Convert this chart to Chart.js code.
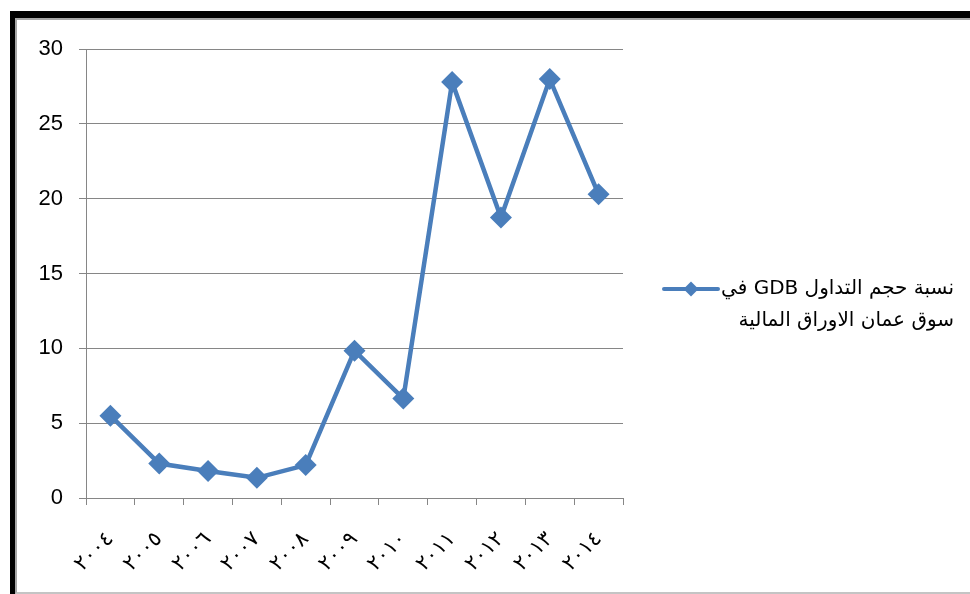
<!DOCTYPE html>
<html>
<head>
<meta charset="utf-8">
<script src="https://cdn.jsdelivr.net/npm/chart.js@4.4.1/dist/chart.umd.min.js"></script>
<style>
  html, body { margin: 0; padding: 0; background: #fff; width: 970px; height: 594px; overflow: hidden; }
  #outer { position: absolute; left: 10px; top: 11px; width: 960px; height: 583px; box-sizing: border-box;
           border-top: 7px solid #000; border-left: 5px solid #000; }
  #inner { position: absolute; left: 0; top: 0; right: 0; bottom: 0; box-sizing: border-box;
           border-top: 2px solid #a6a6a6; border-left: 2px solid #a6a6a6; border-bottom: 2px solid #c4c4c4; }
  #wrap { position: absolute; left: 0; top: 0; width: 953px; height: 572px; }
</style>
</head>
<body>
<div id="outer"><div id="inner"><div id="wrap"><canvas id="c"></canvas></div></div></div>
<script>
const categories = ['٢٠٠٤', '٢٠٠٥', '٢٠٠٦', '٢٠٠٧', '٢٠٠٨', '٢٠٠٩', '٢٠١٠', '٢٠١١', '٢٠١٢', '٢٠١٣', '٢٠١٤'];
const seriesValues = [5.5, 2.3, 1.8, 1.35, 2.2, 9.85, 6.65, 27.8, 18.75, 28.0, 20.3];
const seriesNameLines = ['نسبة حجم التداول GDB في', 'سوق عمان الاوراق المالية'];
const yTicks = [0, 5, 10, 15, 20, 25, 30];

const BLUE = '#4a7ebb';

const legendPlugin = {
  id: 'customLegend',
  afterDraw(chart) {
    const ctx = chart.ctx;
    const ds = chart.data.datasets[0];
    const cy = chart.height / 2 - 17;
    const textRight = chart.width - 16;
    ctx.save();
    ctx.strokeStyle = ds.borderColor;
    ctx.lineWidth = 4;
    ctx.lineCap = 'round';
    const lx0 = chart.chartArea.right + 41, lx1 = lx0 + 54;
    ctx.beginPath();
    ctx.moveTo(lx0, cy);
    ctx.lineTo(lx1, cy);
    ctx.stroke();
    ctx.fillStyle = ds.borderColor;
    ctx.beginPath();
    const r = 7.5, mx = (lx0 + lx1) / 2;
    ctx.moveTo(mx, cy - r); ctx.lineTo(mx + r, cy); ctx.lineTo(mx, cy + r); ctx.lineTo(mx - r, cy); ctx.closePath();
    ctx.fill();
    ctx.fillStyle = '#000';
    ctx.font = '20px "DejaVu Sans", sans-serif';
    ctx.direction = 'rtl';
    ctx.textAlign = 'right';
    ctx.textBaseline = 'middle';
    seriesNameLines.forEach((t, i) => ctx.fillText(t, textRight, cy + i * 32));
    ctx.restore();
  }
};

new Chart(document.getElementById('c'), {
  type: 'line',
  data: {
    labels: categories,
    datasets: [{
      label: seriesNameLines.join(' '),
      data: seriesValues,
      borderColor: BLUE,
      backgroundColor: BLUE,
      borderWidth: 4.5,
      pointStyle: 'rectRot',
      pointRadius: 11,
      pointHoverRadius: 11,
      pointBorderWidth: 0,
      tension: 0,
      fill: false
    }]
  },
  options: {
    responsive: true,
    maintainAspectRatio: false,
    animation: false,
    devicePixelRatio: 1,
    layout: { padding: { left: 0, top: 27, right: 347, bottom: 0 } },
    plugins: { legend: { display: false }, tooltip: { enabled: false } },
    scales: {
      x: {
        type: 'category',
        offset: true,
        grid: { display: true, drawOnChartArea: false, offset: true, tickLength: 7, color: '#868686', lineWidth: 1 },
        border: { display: true, color: '#868686', width: 1 },
        ticks: {
          autoSkip: false, minRotation: 45, maxRotation: 45, padding: 22,
          color: '#000', font: { family: '"DejaVu Sans", sans-serif', size: 21 }
        },
        afterFit(scale) { scale.height = 94; }
      },
      y: {
        min: 0, max: 30,
        afterBuildTicks(scale) { scale.ticks = yTicks.map(v => ({ value: v })); },
        grid: { color: '#868686', lineWidth: 1, tickLength: 7 },
        border: { display: true, color: '#868686', width: 1 },
        ticks: {
          padding: 16, color: '#000',
          font: { family: '"Liberation Sans", Arial, sans-serif', size: 22 }
        },
        afterFit(scale) { scale.width = 69; }
      }
    }
  },
  plugins: [legendPlugin]
});
</script>
</body>
</html>
